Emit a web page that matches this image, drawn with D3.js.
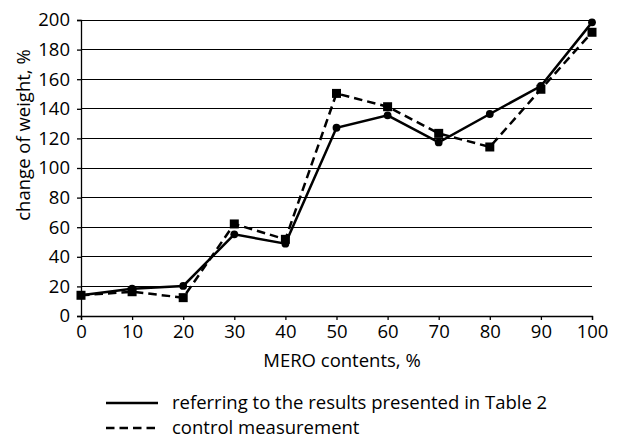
<!DOCTYPE html>
<html><head><meta charset="utf-8">
<script src="https://cdn.jsdelivr.net/npm/d3@7"></script>
<style>body{margin:0;background:#fff}svg{display:block}text{font-family:"Open Sans",sans-serif;fill:#000}</style>
</head><body>
<svg id="c" width="627" height="440"></svg>
<script>
const xValues = [0,10,20,30,40,50,60,70,80,90,100];
const seriesTable2 = [14,18.4,20.3,55.2,48.9,127.2,135.6,117.3,136.5,155.4,198.4];
const seriesControl = [14,16.4,12.4,62.2,51.8,150.4,141.4,123.4,114.2,153.2,191.7];
const yTicks = [0,20,40,60,80,100,120,140,160,180,200];
const seriesNames = ["referring to the results presented in Table 2","control measurement"];
const xTitle = "MERO contents, %";
const yTitle = "change of weight, %";

const svg = d3.select("#c");
const L=81, R=592, T=20, B=316;
const x = d3.scaleLinear().domain([0,100]).range([L,R]);
const y = d3.scaleLinear().domain([0,200]).range([B,T]);
const fs = 18.5;

// gridlines
svg.append("g").selectAll("line").data(yTicks.filter(d=>d>0)).join("line")
  .attr("x1",L).attr("x2",R).attr("y1",d=>y(d)).attr("y2",d=>y(d))
  .attr("stroke","#000").attr("stroke-width",1).attr("shape-rendering","crispEdges");

// axes
const ya = svg.append("g").attr("transform",`translate(${L},0)`)
  .call(d3.axisLeft(y).tickValues(yTicks).tickSize(4).tickPadding(7));
const xa = svg.append("g").attr("transform",`translate(0,${B})`)
  .call(d3.axisBottom(x).tickValues(xValues).tickSize(4).tickPadding(5));
[ya,xa].forEach(g=>{
  g.select(".domain").attr("stroke","#000").attr("stroke-width",1.3);
  g.selectAll(".tick line").attr("stroke","#000").attr("stroke-width",1.3);
  g.selectAll("text").attr("font-size",fs).attr("font-family","'Open Sans',sans-serif").attr("fill","#000");
});

// titles
svg.append("text").attr("x",342).attr("y",367).attr("text-anchor","middle").attr("font-size",fs).text(xTitle);
svg.append("text").attr("transform","translate(30,135) rotate(-90)").attr("text-anchor","middle").attr("font-size",fs).text(yTitle);

const line = d3.line().x((d,i)=>x(xValues[i])).y(d=>y(d));
// control (dashed)
svg.append("path").datum(seriesControl).attr("d",line).attr("fill","none").attr("stroke","#000").attr("stroke-width",2.5).attr("stroke-dasharray","8.5,5");
svg.append("g").selectAll("rect").data(seriesControl).join("rect")
  .attr("x",(d,i)=>x(xValues[i])-4.5).attr("y",d=>y(d)-4.5).attr("width",9).attr("height",9).attr("fill","#000");
// table 2 (solid)
svg.append("path").datum(seriesTable2).attr("d",line).attr("fill","none").attr("stroke","#000").attr("stroke-width",2.5);
svg.append("g").selectAll("circle").data(seriesTable2).join("circle")
  .attr("cx",(d,i)=>x(xValues[i])).attr("cy",d=>y(d)).attr("r",3.9).attr("fill","#000");

// legend
const lg = svg.append("g");
[0,1].forEach(i=>{
  const yy = 403 + i*25;
  lg.append("line").attr("x1",106).attr("x2",158).attr("y1",yy).attr("y2",yy)
    .attr("stroke","#000").attr("stroke-width",2.5).attr("stroke-dasharray", i===1?"8.5,5":null);
  lg.append("text").attr("x",172).attr("y",yy).attr("dy","0.35em").attr("font-size",fs).text(seriesNames[i]);
});
</script>
</body></html>
